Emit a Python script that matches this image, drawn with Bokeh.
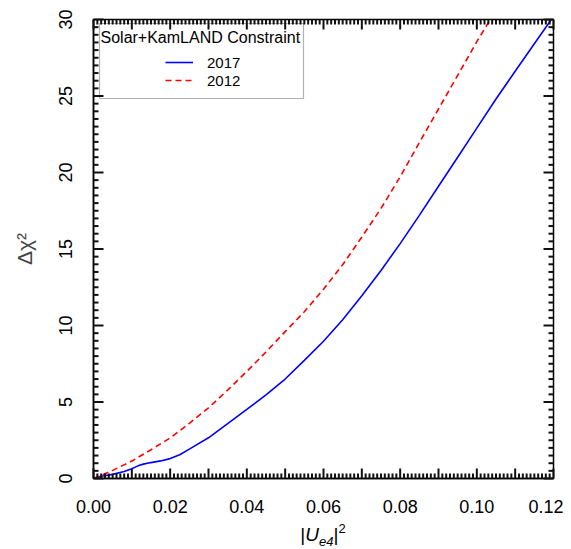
import numpy as np
from bokeh.plotting import figure
from bokeh.layouts import column
from bokeh.models import (Range1d, FixedTicker, Legend, LegendItem, Label,
                          BoxAnnotation, Div, ColumnDataSource)
from bokeh.embed import file_html
from bokeh.resources import INLINE

# ---------------- data ----------------
u2017 = [0.000, 0.002, 0.005, 0.008, 0.010, 0.011, 0.012, 0.013, 0.015, 0.0175,
         0.020, 0.0225, 0.025, 0.030, 0.035, 0.040, 0.045, 0.050, 0.055, 0.060,
         0.065, 0.070, 0.075, 0.080, 0.085, 0.090, 0.095, 0.100, 0.105, 0.110,
         0.115, 0.120]
chi2017 = [0.02, 0.15, 0.27, 0.46, 0.64, 0.76, 0.86, 0.94, 1.04, 1.15,
           1.30, 1.55, 1.92, 2.66, 3.58, 4.52, 5.47, 6.50, 7.72, 8.97,
           10.38, 11.95, 13.60, 15.35, 17.20, 19.10, 21.00, 22.90, 24.80, 26.62,
           28.42, 30.20]

u2012 = [0.000, 0.002, 0.005, 0.010, 0.015, 0.020, 0.025, 0.030, 0.035, 0.040,
         0.045, 0.050, 0.055, 0.060, 0.065, 0.070, 0.075, 0.080, 0.085, 0.090,
         0.095, 0.100, 0.1035]
chi2012 = [0.00, 0.20, 0.53, 1.14, 1.88, 2.65, 3.60, 4.62, 5.78, 7.00,
           8.27, 9.60, 10.90, 12.37, 13.97, 15.78, 17.65, 19.72, 21.95, 24.15,
           26.35, 28.55, 30.00]

series_names = ["2017", "2012"]
legend_title = "Solar+KamLAND Constraint"
x_major = [round(i * 0.01, 2) for i in range(13)]
x_labeled = [0.00, 0.02, 0.04, 0.06, 0.08, 0.10, 0.12]
y_major = [0, 5, 10, 15, 20, 25, 30]

# ---------------- figure ----------------
FONT = "Liberation Sans"
XMIN, XMAX, YMIN, YMAX = 0.0, 0.12, 0.0, 30.0
FRAME_W, FRAME_H = 460, 459
x_minor = [round(i * 0.001, 3) for i in range(121) if i % 10]
y_minor = [i * 0.5 for i in range(61) if i % 10]

p = figure(width=563, height=518, output_backend="svg", toolbar_location=None,
           x_range=Range1d(XMIN, XMAX), y_range=Range1d(YMIN, YMAX),
           min_border_left=93, min_border_right=10,
           min_border_top=19, min_border_bottom=40)
p.grid.visible = False
p.background_fill_color = "white"
p.border_fill_color = "white"
p.outline_line_color = "black"
p.outline_line_width = 1.5


def style(ax, ticks, labels):
    ax.ticker = FixedTicker(ticks=ticks, minor_ticks=[])
    ax.axis_line_color = "black"
    ax.axis_line_width = 1.5
    ax.major_tick_in = 0
    ax.major_tick_out = 0
    ax.minor_tick_in = 0
    ax.minor_tick_out = 0
    ax.major_label_text_font = FONT
    ax.major_label_text_font_size = "18px"
    ax.major_label_text_color = "black"
    ax.major_label_overrides = labels


xlab = {t: ("%.2f" % t if any(abs(t - l) < 1e-9 for l in x_labeled) else "")
        for t in x_major}
ylab = {t: str(t) for t in y_major}

style(p.xaxis[0], x_major, xlab)
p.xaxis[0].major_label_standoff = 21

style(p.yaxis[0], y_major, ylab)
p.yaxis[0].major_label_standoff = 22
p.yaxis[0].major_label_orientation = "vertical"
p.yaxis[0].axis_label = "Δχ²"
p.yaxis[0].axis_label_text_font = FONT
p.yaxis[0].axis_label_text_font_size = "21px"
p.yaxis[0].axis_label_text_font_style = "normal"
p.yaxis[0].axis_label_standoff = 20

# ---------------- inward ticks on all four sides ----------------
dx = (XMAX - XMIN) / FRAME_W   # data units per pixel
dy = (YMAX - YMIN) / FRAME_H
MAJ, MIN_ = 10, 5
x0, y0, x1, y1 = [], [], [], []
for vals, ln in ((x_major, MAJ), (x_minor, MIN_)):
    for v in vals:
        x0 += [v, v]; x1 += [v, v]
        y0 += [YMIN, YMAX]; y1 += [YMIN + ln * dy, YMAX - ln * dy]
for vals, ln in ((y_major, MAJ), (y_minor, MIN_)):
    for v in vals:
        y0 += [v, v]; y1 += [v, v]
        x0 += [XMIN, XMAX]; x1 += [XMIN + ln * dx, XMAX - ln * dx]
tick_src = ColumnDataSource(dict(x0=x0, y0=y0, x1=x1, y1=y1))
p.segment(x0="x0", y0="y0", x1="x1", y1="y1", source=tick_src,
          line_color="#111111", line_width=2.0, level="overlay")

# ---------------- curves ----------------
r17 = p.line(u2017, chi2017, line_color="#0000FF", line_width=1.6)
r12 = p.line(u2012, chi2012, line_color="#FF0000", line_width=1.6, line_dash="6 4")

# ---------------- legend ----------------
box = BoxAnnotation(left=XMIN + 6 * dx, right=XMIN + 210 * dx,
                    top=YMAX - 4 * dy, bottom=YMAX - 79 * dy,
                    fill_color="white", fill_alpha=1.0,
                    line_color="black", line_width=1.2, level="annotation")
p.add_layout(box)
p.add_layout(Label(x=XMIN + 7 * dx, y=YMAX - 18 * dy, text=legend_title, text_font=FONT,
                   text_font_size="16px", text_baseline="middle", text_align="left",
                   text_color="black"))

leg = Legend(items=[LegendItem(label=series_names[0], renderers=[r17]),
                    LegendItem(label=series_names[1], renderers=[r12])],
             location=(72, 389), border_line_color=None, background_fill_alpha=0,
             padding=0, margin=0, spacing=0, glyph_width=28, glyph_height=18,
             label_height=18, label_standoff=14, label_text_font=FONT,
             label_text_font_size="15px", label_text_color="black")
p.add_layout(leg)

# ---------------- x-axis title |U_e4|^2 ----------------
xtitle = Div(text='|<i>U</i><span style="font-size:13px;position:relative;top:5px">'
                  '<i>e4</i></span>|<span style="font-size:13px;position:relative;'
                  'top:-8px">2</span>',
             width=FRAME_W, height=31, margin=(0, 0, 0, 93),
             styles={"font-family": FONT, "font-size": "19px", "color": "black",
                     "text-align": "center", "line-height": "1",
                     "padding-top": "7px"})

layout = column(p, xtitle, spacing=0)
open("out.html", "w").write(file_html(layout, INLINE))
